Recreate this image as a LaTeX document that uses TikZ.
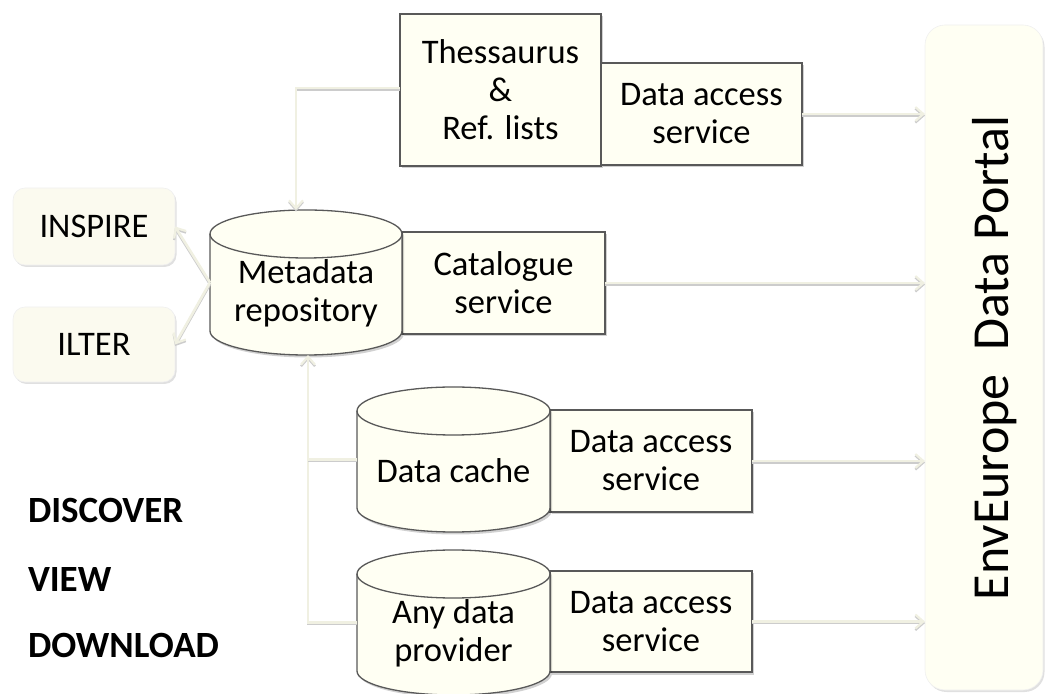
\documentclass[tikz,border=0pt]{standalone}
\usepackage{fontspec}
\setmainfont{Carlito}
\usetikzlibrary{arrows.meta,shadows}
\definecolor{cream}{RGB}{255,255,243}
\definecolor{creamB}{RGB}{251,250,239}
\definecolor{edgegray}{RGB}{89,89,89}
\definecolor{connc}{RGB}{240,240,226}
\tikzset{
  txt/.style={font=\fontsize{34.5}{38}\selectfont, align=center, inner sep=0pt, outer sep=0pt},
  boxshadow/.style={drop shadow={shadow xshift=2pt, shadow yshift=-2.5pt, fill=black, opacity=0.18}},
  sbox/.style={txt, rectangle, draw=edgegray, line width=1.3pt, fill=cream, boxshadow},
  rbox/.style={txt, rectangle, rounded corners=12pt, fill=creamB, draw=black!6, line width=0.6pt,
    drop shadow={shadow xshift=1.5pt, shadow yshift=-2pt, fill=black, opacity=0.12}},
  cylnode/.style={rectangle, inner sep=0pt, outer sep=0pt},
  cylfill/.style={draw=edgegray, line width=1.3pt, fill=cream, boxshadow},
  cylline/.style={draw=edgegray, line width=1.3pt},
  connbase/.style={draw=connc, line width=2.6pt,
    preaction={draw=black!20, line width=2.6pt, transform canvas={yshift=-1.6pt}}},
  conn/.style={connbase, -{Straight Barb[length=8pt,width=14pt,line width=2.2pt]}},
  bigw/.style={font=\bfseries\fontsize{37}{44}\selectfont, inner sep=0pt, outer sep=0pt, anchor=base west}
}
\newcommand\cylshape[2]{%
  \path[cylfill] ([yshift=-24pt]#1.north west) -- ([yshift=24pt]#1.south west)
    arc[start angle=180,end angle=360,x radius=#2pt,y radius=24pt]
    -- ([yshift=-24pt]#1.north east)
    arc[start angle=0,end angle=180,x radius=#2pt,y radius=24pt] -- cycle;
  \draw[cylline] ([yshift=-24pt]#1.north west)
    arc[start angle=180,end angle=360,x radius=#2pt,y radius=24pt];
}
\begin{document}
\begin{tikzpicture}[x=1pt,y=1pt]
\useasboundingbox (0,0) rectangle (1046,693);

% portal
\node[rectangle, rounded corners=20pt, fill=cream, draw=black!6, line width=0.6pt,
  minimum width=118pt, minimum height=665pt, inner sep=0pt, outer sep=0pt,
  drop shadow={shadow xshift=1.5pt, shadow yshift=-2pt, fill=black, opacity=0.12}]
  (portal) at (984,335.5) {};
\node[font=\fontsize{52}{60}\selectfont, rotate=90, anchor=base, inner sep=0pt] (portaltext)
  at (1008,335) {EnvEurope\ \ Data Portal};

% left boxes
\node[rbox, minimum width=162pt, minimum height=77pt] (insp) at (94,466.5) {INSPIRE};
\node[rbox, minimum width=162pt, minimum height=75pt] (ilter) at (94,348.5) {ILTER};

% top row
\node[sbox, minimum width=201pt, minimum height=152pt] (thes) at (500.5,603) {Thessaurus\\\&\\Ref. lists};
\node[sbox, minimum width=201pt, minimum height=102pt] (das1) at (701.5,579) {Data access\\service};

% metadata
\node[sbox, minimum width=203pt, minimum height=102pt] (cat) at (503.5,410) {Catalogue\\service};
\node[cylnode, minimum width=192pt, minimum height=145pt] (meta) at (306,410.5) {};
\cylshape{meta}{96}
\node[txt] (metat) at ([yshift=-11pt]meta.center) {Metadata\\repository};

% data cache
\node[sbox, minimum width=202pt, minimum height=102pt] (das2) at (651,232) {Data access\\service};
\node[cylnode, minimum width=193pt, minimum height=145pt] (cache) at (453.5,233.5) {};
\cylshape{cache}{96.5}
\node[txt] (cachet) at ([yshift=-11pt]cache.center) {Data cache};

% provider
\node[sbox, minimum width=202pt, minimum height=101pt] (das3) at (651,71.5) {Data access\\service};
\node[cylnode, minimum width=193pt, minimum height=145pt] (prov) at (453.5,70.5) {};
\cylshape{prov}{96.5}
\node[txt] (provt) at ([yshift=-11pt]prov.center) {Any data\\provider};

% connectors
\coordinate (bus) at ([xshift=2pt]meta.south);
\draw[conn] ([yshift=2pt]thes.west) -| ([xshift=-10pt]meta.north);
\draw[conn] (meta.west) -- (insp.east);
\draw[conn] (meta.west) -- (ilter.east);
\draw[conn] (prov.west) -| (bus);
\draw[connbase] (cache.west) -- (cache.west -| bus);
\draw[conn] (das1.east) -- (das1.east -| portal.west);
\draw[conn] (cat.east) -- (cat.east -| portal.west);
\draw[conn] (das2.east) -- (das2.east -| portal.west);
\draw[conn] (das3.east) -- (das3.east -| portal.west);

% words
\node[bigw] (disc) at (28,170) {DISCOVER};
\node[bigw] (view) at (28,101) {VIEW};
\node[bigw] (down) at (28,35) {DOWNLOAD};
\end{tikzpicture}
\end{document}
